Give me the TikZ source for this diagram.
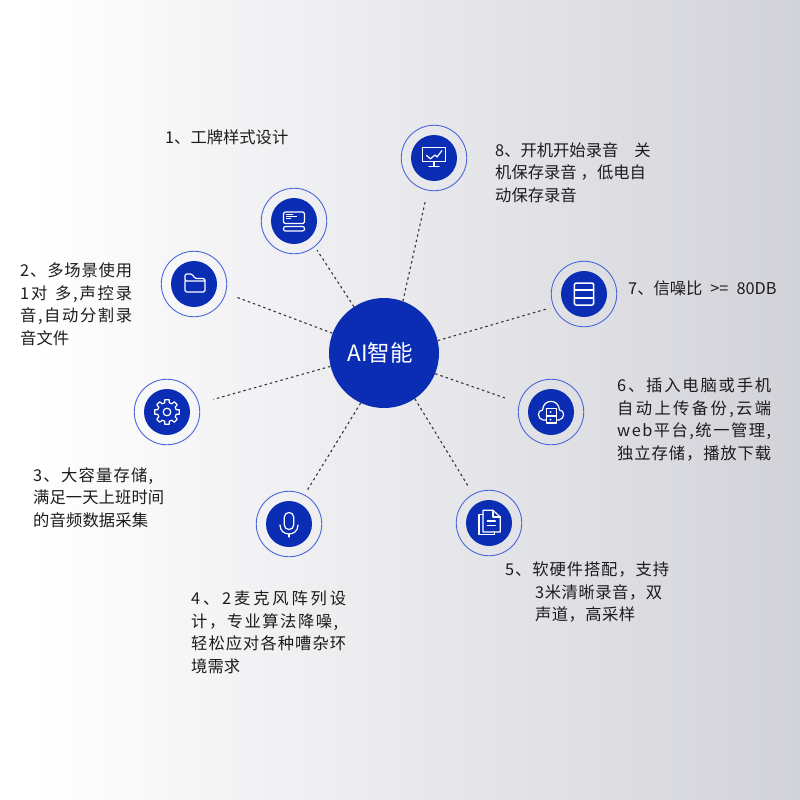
\documentclass[tikz,border=0pt]{standalone}
\usepackage{fontspec}
\setmainfont{Noto Sans CJK SC}
\newcommand\gp{\hskip 0pt plus 10pt\relax}
\makeatletter
\newcommand\tl[2]{\makebox[#1pt][s]{\@tfor\tlx:=#2\do{\tlx\gp}\unskip}}
\makeatother
\definecolor{disc}{HTML}{0A2DB4}
\definecolor{ringc}{HTML}{4B65DA}
\definecolor{txt}{HTML}{1C1C1C}
\definecolor{dashc}{HTML}{33363C}
\definecolor{bgr}{HTML}{D2D3D9}
\tikzset{
  ringnode/.style={circle,draw=ringc,line width=0.9pt,minimum size=65.5pt,inner sep=0pt},
  discnode/.style={circle,fill=disc,minimum size=46pt,inner sep=0pt},
  hubnode/.style={circle,fill=disc,minimum size=110pt,inner sep=0pt,text=white,font=\fontsize{22.5}{25}\selectfont},
  conn/.style={draw=dashc,line width=1.1pt,dash pattern=on 2.5pt off 3pt},
  lbl/.style={anchor=north west,inner sep=0pt,align=left,text=txt,font=\fontsize{16.3}{22.5}\selectfont},
  icon/.style={draw=white,line width=1.2pt,line join=round,line cap=round,fill=none}
}
\begin{document}
\begin{tikzpicture}[x=1pt,y=-1pt]
\useasboundingbox (0,0) rectangle (800,800);
\shade[left color=white,right color=bgr] (30,0) rectangle (800,800);
\fill[white] (0,0) rectangle (30,800);

\node[hubnode] (hub) at (384,353) {\hspace*{-8pt}AI智能};

\node[ringnode] (n1) at (294,221) {};
\node[ringnode] (n2) at (194,284) {};
\node[ringnode] (n3) at (167,412) {};
\node[ringnode] (n4) at (289,524) {};
\node[ringnode] (n5) at (489,523) {};
\node[ringnode] (n6) at (551,412) {};
\node[ringnode] (n7) at (584,294) {};
\node[ringnode] (n8) at (434,158) {};
\node[discnode] (d1) at (n1) {};
\node[discnode] (d2) at (n2) {};
\node[discnode] (d3) at (n3) {};
\node[discnode] (d4) at (n4) {};
\node[discnode] (d5) at (n5) {};
\node[discnode] (d6) at (n6) {};
\node[discnode] (d7) at (n7) {};
\node[discnode] (d8) at (n8) {};

\draw[conn,shorten >=4pt]  (hub.123.7) -- (n1.-51.6);
\draw[conn,shorten >=12pt] (hub.159.3) -- (n2.-16.8);
\draw[conn,shorten >=15pt] (hub.194.5) -- (n3.15.8);
\draw[conn,shorten >=4pt]  (hub.245.2) -- (n4.62.7);
\draw[conn,shorten >=7pt]  (hub.-56.9) -- (n5.119.7);
\draw[conn,shorten >=15pt] (hub.-22)   -- (n6.164.2);
\draw[conn,shorten >=5pt]  (hub.13.8)  -- (n7.203.2);
\draw[conn,shorten >=12pt] (hub.70.3)  -- (n8.259.7);

% icon 1: computer
\begin{scope}[shift={(294,221)}]
\draw[icon,rounded corners=1.5pt] (-10.5,-9) rectangle (10.5,2.5);
\draw[icon,rounded corners=2pt] (-10.5,5.5) rectangle (10.5,10);
\draw[white,line width=0.8pt] (-8,-6.5) -- (-1,-6.5) (-8,-4.5) -- (3,-4.5) (-8,-2.5) -- (-3,-2.5);
\end{scope}
% icon 2: folder
\begin{scope}[shift={(194,284)}]
\draw[icon,rounded corners=1.5pt] (-9,-3) -- (-9,8) -- (11,8) -- (11,-5.5) -- (1,-5.5) -- (-2,-10) -- (-9,-10) -- (-9,-3) -- (11,-3);
\end{scope}
% icon 3: gear
\begin{scope}[shift={(167,412)}]
\draw[icon] (-14:9.5) \foreach \a in {0,45,...,315} { -- (\a-14:9.5) -- (\a-10:12.5) -- (\a+10:12.5) -- (\a+14:9.5) } -- cycle;
\draw[icon] (0,0) circle (3.8);
\end{scope}
% icon 4: microphone
\begin{scope}[shift={(289,524)}]
\draw[icon,rounded corners=4.6pt] (-4.7,-11.5) rectangle (4.7,5.5);
\draw[icon] (-9,1) .. controls (-9,13) and (9,13) .. (9,1);
\draw[icon] (0,10) -- (0,13);
\end{scope}
% icon 5: documents
\begin{scope}[shift={(489,523)}]
\draw[icon] (4,-12.7) -- (-6,-12.7) -- (-6,9) -- (11.3,9) -- (11.3,-6) -- cycle;
\draw[icon] (4,-12.7) -- (4,-6) -- (11.3,-6);
\draw[icon] (-6,-8.3) -- (-10,-8.3) -- (-10,11.5) -- (5.7,11.5) -- (5.7,9);
\draw[icon] (-1.7,-2) -- (6.3,-2) (-1.7,2.3) -- (6.3,2.3);
\end{scope}
% icon 6: cloud and cabinet
\begin{scope}[shift={(551,412)}]
\draw[icon] (-5,8) -- (-8,8) .. controls (-14,7) and (-14,-2) .. (-8.5,-2) .. controls (-8,-8) and (-4,-10.6) .. (0,-10.6) .. controls (4,-10.6) and (8,-8) .. (8.5,-2) .. controls (14,-2) and (14,7) .. (8,8) -- (5.5,8);
\draw[icon] (-4.8,-3.3) rectangle (5.5,11);
\draw[icon] (-4.8,4) -- (5.5,4);
\fill[white] (-0.5,0) circle (1) (-0.5,7.6) circle (1);
\end{scope}
% icon 7: stack
\begin{scope}[shift={(584,294)}]
\draw[icon,line width=1.5pt,rounded corners=1.5pt] (-9.7,-11) rectangle (9.7,11);
\draw[icon,line width=1.5pt] (-9.7,-4) -- (9.7,-4) (-9.7,4) -- (9.7,4);
\end{scope}
% icon 8: monitor
\begin{scope}[shift={(434,158)}]
\draw[icon] (-11.5,-10.7) rectangle (11.5,3.7);
\draw[icon] (0,3.7) -- (0,8.5) (-5,8.5) -- (5,8.5);
\draw[icon] (-7.5,-2.5) -- (-3.5,0.8) -- (1,-3) -- (3,-1) -- (8,-7.5);
\end{scope}

\node[lbl] (t1) at (165,130) {1、工牌样式设计};
\node[lbl] (t2) at (20,263) {\tl{112}{2、多场景使用}\\\tl{112}{1对{ }多,声控录}\\\tl{112}{音,自动分割录}\\\tl{48}{音文件}};
\node[lbl] (t3) at (33,467) {\tl{120}{3、大容量存储,}\\\tl{131}{满足一天上班时间}\\\tl{115}{的音频数据采集}};
\node[lbl] (t4) at (191,591) {\tl{155}{4、2麦克风阵列设}\\\tl{147}{计，专业算法降噪,}\\\tl{155}{轻松应对各种嘈杂环}\\\tl{48}{境需求}};
\node[lbl] (t5) at (505,562) {\tl{164}{5、软硬件搭配，支持}\\\hspace*{30pt}\tl{127}{3米清晰录音，双}\\\hspace*{30pt}\tl{100}{声道，高采样}};
\node[lbl] (t6) at (617,378) {\tl{154}{6、插入电脑或手机}\\\tl{154}{自动上传备份,云端}\\\tl{154}{web平台,统一管理,}\\\tl{154}{独立存储，播放下载}};
\node[lbl] (t7) at (628,281) {7、信噪比\hspace{8pt}>=\hspace{8pt}80DB};
\node[lbl] (t8) at (495,142) {8、开机开始录音\hspace{16pt}关\\机保存录音\hspace{4pt}，低电自\\动保存录音};
\end{tikzpicture}
\end{document}
